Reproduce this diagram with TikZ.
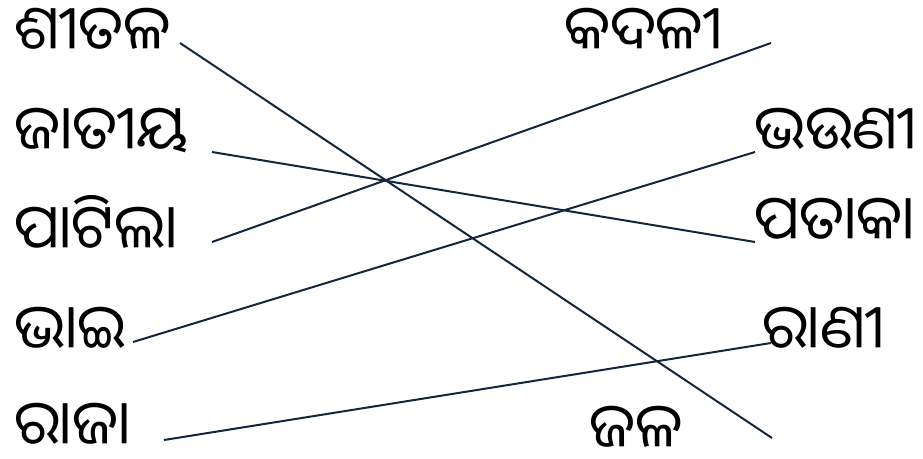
\documentclass[tikz,border=0pt]{standalone}
\usepackage{fontspec}
\usepackage{xcolor}
\usepackage{tikz}
\usetikzlibrary{positioning,calc}
\newfontfamily\oriyafont[Script=Oriya]{Noto Sans Oriya UI}
\definecolor{linknavy}{RGB}{18,38,62}
\tikzset{
  word/.style={anchor=base west,inner sep=0pt,font=\oriyafont\fontsize{61}{63}\selectfont},
  link/.style={draw=linknavy,line width=2pt}
}
\begin{document}
\begin{tikzpicture}[x=1pt,y=-1pt]
  \useasboundingbox (0,0) rectangle (923,458);
  % left column
  \node[word] (sheetala) at (14,54) {ଶୀତଳ};
  \node[word] (jatiya) at (14,154) {ଜାତୀୟ};
  \node[word] (patila) at (14,253) {ପାଟିଲା};
  \node[word] (bhai) at (14,353) {ଭାଇ};
  \node[word] (raja) at (14,449) {ରାଜା};
  % right column
  \node[word] (kadali) at (564,54) {କଦଳୀ};
  \node[word] (bhauni) at (754,154) {ଭଉଣୀ};
  \node[word] (pataka) at (754,244) {ପତାକା};
  \node[word] (rani) at (762,353) {ରାଣୀ};
  \node[word] (jala) at (589,452) {ଜଳ};

  % line ends
  \coordinate (a1) at (180,43);  \coordinate (b1) at (772,438);
  \coordinate (a2) at (212,152); \coordinate (b2) at (755,242);
  \coordinate (a3) at (212,242); \coordinate (b3) at (771,43);
  \coordinate (a4) at (133,342); \coordinate (b4) at (755,152);
  \coordinate (a5) at (164,440); \coordinate (b5) at (771,343);

  % matching lines
  \foreach \i in {1,...,5}
    \draw[link] (a\i) -- (b\i);
\end{tikzpicture}
\end{document}
